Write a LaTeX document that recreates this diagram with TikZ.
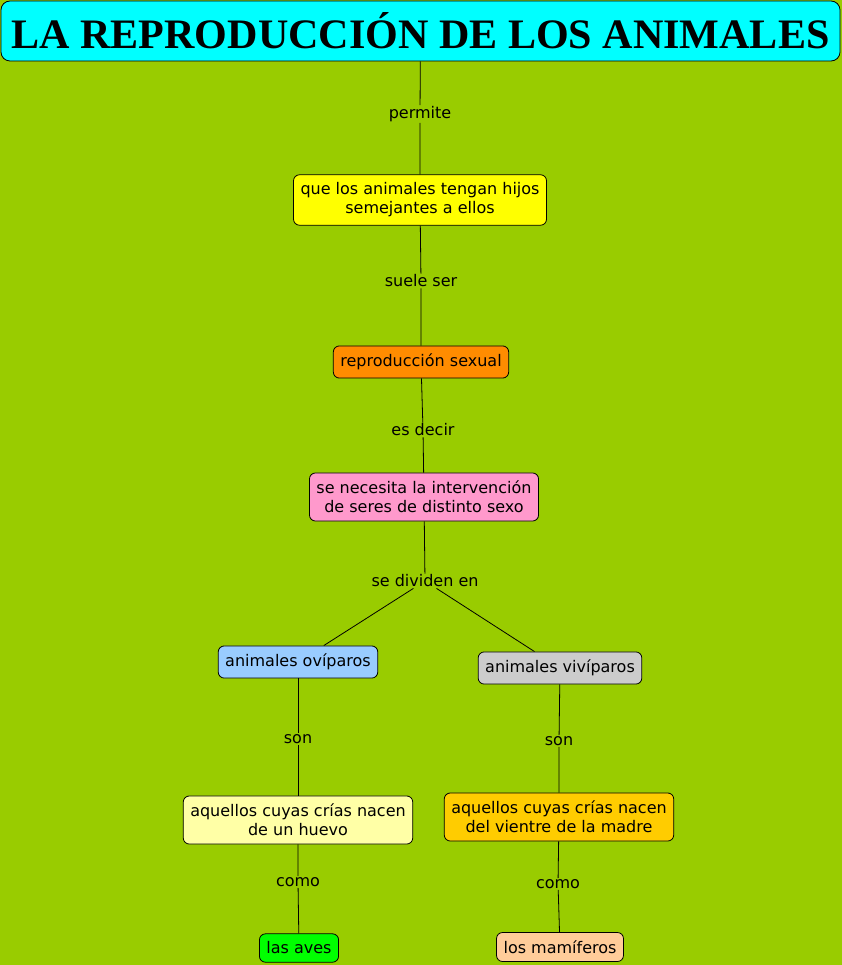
\documentclass[tikz,border=0pt]{standalone}
\usepackage{fontspec}
\setmainfont{DejaVu Sans}
\newfontfamily\titlefont{Liberation Serif}
\usetikzlibrary{positioning}
\definecolor{fondo}{HTML}{99CC00}
\definecolor{celeste}{HTML}{00FFFF}
\definecolor{amarillo}{HTML}{FFFF00}
\definecolor{naranja}{HTML}{FF8C00}
\definecolor{rosa}{HTML}{FF99CC}
\definecolor{azul}{HTML}{99CCFF}
\definecolor{gris}{HTML}{CCCCCC}
\definecolor{crema}{HTML}{FFFFA6}
\definecolor{oro}{HTML}{FFCC00}
\definecolor{verde}{HTML}{00FF00}
\definecolor{melocoton}{HTML}{FFCC99}
\tikzset{
    concepto/.style = {draw = black, line width = 0.8pt, rounded corners = 6pt, align = center,
        inner xsep = 7pt, inner ysep = 8pt, font = \fontsize{16}{19}\selectfont},
    enlace/.style = {inner sep = 1pt, font = \fontsize{16}{19}\selectfont},
    conector/.style = {line width = 0.8pt, draw = black}
}
\begin{document}
\begin{tikzpicture}[x = 1pt, y = -1pt]
        \fill[fondo] (0,0) rectangle (842,965);
        \useasboundingbox (0,0) rectangle (842,965);
        % titulo
        \node[concepto, fill = celeste, rounded corners = 9pt, minimum width = 839pt, minimum height = 60pt] (titulo) at (420.5,31)
            {\resizebox{818pt}{36pt}{\titlefont\bfseries LA REPRODUCCIÓN DE LOS ANIMALES}};
        % conceptos
        \node[concepto, fill = amarillo] (hijos) at (420,200) {que los animales tengan hijos\\semejantes a ellos};
        \node[concepto, fill = naranja] (sexual) at (421,362) {reproducción sexual};
        \node[concepto, fill = rosa] (sexo) at (424,497) {se necesita la intervención\\de seres de distinto sexo};
        \node[concepto, fill = azul] (oviparos) at (298,662) {animales ovíparos};
        \node[concepto, fill = gris] (viviparos) at (560,668) {animales vivíparos};
        \node[concepto, fill = crema] (huevo) at (298,820) {aquellos cuyas crías nacen\\de un huevo};
        \node[concepto, fill = oro] (vientre) at (559,817) {aquellos cuyas crías nacen\\del vientre de la madre};
        \node[concepto, fill = verde] (aves) at (299,948) {las aves};
        \node[concepto, fill = melocoton] (mamiferos) at (560,947) {los mamíferos};
        % enlaces
        \node[enlace] (permite) at (420,114) {permite};
        \node[enlace] (suele) at (421,281) {suele ser};
        \node[enlace] (decir) at (423,430) {es decir};
        \node[enlace] (dividen) at (425,581) {se dividen en};
        \node[enlace] (sonA) at (298,739) {son};
        \node[enlace] (sonB) at (559,741) {son};
        \node[enlace] (comoA) at (298,882) {como};
        \node[enlace] (comoB) at (558,884) {como};
        % conectores
        \begin{scope}[style = conector]
            \draw (titulo) -- (permite) -- (hijos);
            \draw (hijos) -- (suele) -- (sexual);
            \draw (sexual) -- (decir) -- (sexo);
            \draw (sexo) -- (dividen);
            \draw (dividen) -- (oviparos);
            \draw (dividen) -- (viviparos);
            \draw (oviparos) -- (sonA) -- (huevo);
            \draw (viviparos) -- (sonB) -- (vientre);
            \draw (huevo) -- (comoA) -- (aves);
            \draw (vientre) -- (comoB) -- (mamiferos);
        \end{scope}
    \end{tikzpicture}
\end{document}
